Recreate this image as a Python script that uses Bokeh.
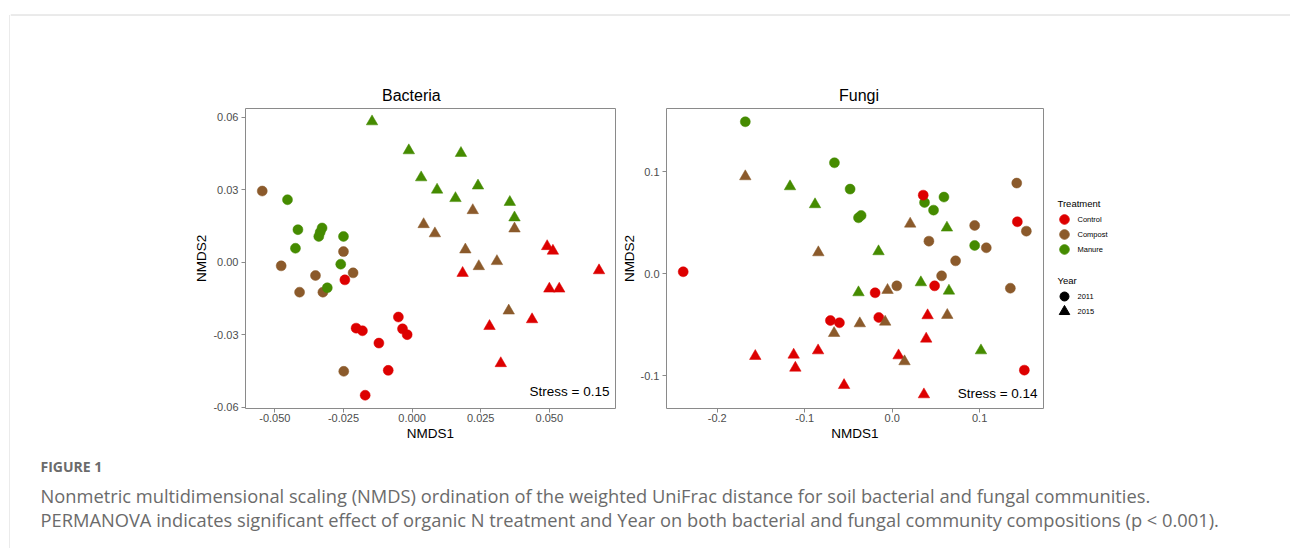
from bokeh.plotting import figure
from bokeh.layouts import column, row
from bokeh.models import ColumnDataSource, FixedTicker, NumeralTickFormatter, Label, Range1d, Spacer
from bokeh.embed import file_html
from bokeh.resources import INLINE
from bokeh.core.properties import value

# ---------------- data ----------------
treatments = ["Control", "Compost", "Manure"]
treat_colors = ["#DD0000", "#8B5A2B", "#458B00"]
years = ["2011", "2015"]
year_markers = ["circle", "triangle"]

panel_titles = ["Bacteria", "Fungi"]
stress_texts = ["Stress = 0.15", "Stress = 0.14"]
axis_x_label = "NMDS1"
axis_y_label = "NMDS2"

# Bacteria NMDS scores
bact_treat = (["Compost"] * 8 + ["Manure"] * 9 + ["Control"] * 9 +
              ["Manure"] * 9 + ["Compost"] * 8 + ["Control"] * 9)
bact_year = ["2011"] * 26 + ["2015"] * 26
bact_x = [-0.0546, -0.0477, -0.0410, -0.0352, -0.0325, -0.0250, -0.0215, -0.0249,
          -0.0454, -0.0416, -0.0425, -0.0328, -0.0335, -0.0340, -0.0250, -0.0260, -0.0309,
          -0.0245, -0.0204, -0.0181, -0.0121, -0.0050, -0.0035, -0.0018, -0.0087, -0.0171,
          -0.0146, -0.0012, 0.0178, 0.0033, 0.0091, 0.0240, 0.0158, 0.0356, 0.0373,
          0.0221, 0.0042, 0.0083, 0.0194, 0.0243, 0.0309, 0.0373, 0.0352,
          0.0492, 0.0513, 0.0681, 0.0184, 0.0500, 0.0536, 0.0437, 0.0282, 0.0323]
bact_y = [0.0295, -0.0015, -0.0124, -0.0055, -0.0124, 0.0044, -0.0044, -0.0452,
          0.0259, 0.0135, 0.0058, 0.0142, 0.0124, 0.0107, 0.0107, -0.0008, -0.0106,
          -0.0073, -0.0273, -0.0284, -0.0335, -0.0227, -0.0276, -0.0300, -0.0448, -0.0551,
          0.0583, 0.0463, 0.0452, 0.0351, 0.0300, 0.0317, 0.0265, 0.0249, 0.0185,
          0.0215, 0.0157, 0.0119, 0.0052, -0.0017, 0.0004, 0.0139, -0.0201,
          0.0066, 0.0047, -0.0034, -0.0045, -0.0110, -0.0110, -0.0237, -0.0265, -0.0419]

# Fungi NMDS scores
fung_treat = (["Compost"] * 9 + ["Manure"] * 9 + ["Control"] * 9 +
              ["Manure"] * 8 + ["Control"] * 9 + ["Compost"] * 9)
fung_year = ["2011"] * 27 + ["2015"] * 26
fung_x = [0.1424, 0.0943, 0.1534, 0.0420, 0.1076, 0.0725, 0.0565, 0.0053, 0.1351,
          -0.1679, -0.0660, -0.0481, -0.0385, -0.0355, 0.0370, 0.0473, 0.0592, 0.0943,
          -0.2389, 0.0355, 0.1431, -0.0195, 0.0485, -0.0706, -0.0603, -0.0153, 0.1511,
          -0.1168, -0.0882, 0.0626, -0.0156, -0.0385, 0.0328, 0.0649, 0.1015,
          -0.1565, -0.1126, -0.1107, -0.0847, -0.0550, 0.0073, 0.0405, 0.0389, 0.0363,
          -0.1679, -0.0844, 0.0206, -0.0053, -0.0370, -0.0080, -0.0664, 0.0630, 0.0141]
fung_y = [0.0889, 0.0474, 0.0418, 0.0320, 0.0255, 0.0127, -0.0020, -0.0118, -0.0141,
          0.1490, 0.1088, 0.0830, 0.0549, 0.0572, 0.0699, 0.0624, 0.0752, 0.0278,
          0.0020, 0.0771, 0.0510, -0.0186, -0.0118, -0.0458, -0.0480, -0.0428, -0.0944,
          0.0856, 0.0680, 0.0451, 0.0219, -0.0183, -0.0085, -0.0167, -0.0752,
          -0.0807, -0.0794, -0.0922, -0.0752, -0.1092, -0.0801, -0.0408, -0.0637, -0.1183,
          0.0954, 0.0209, 0.0490, -0.0160, -0.0487, -0.0471, -0.0582, -0.0405, -0.0859]

bact_xticks = [-0.05, -0.025, 0.0, 0.025, 0.05]
bact_yticks = [-0.06, -0.03, 0.0, 0.03, 0.06]
fung_xticks = [-0.2, -0.1, 0.0, 0.1]
fung_yticks = [-0.1, 0.0, 0.1]

caption_head = "FIGURE 1"
caption_lines = [
    "Nonmetric multidimensional scaling (NMDS) ordination of the weighted UniFrac distance for soil bacterial and fungal communities.",
    "PERMANOVA indicates significant effect of organic N treatment and Year on both bacterial and fungal community compositions (p < 0.001).",
]

# ---------------- styling ----------------
FONT = "Liberation Sans"
CAP_FONT = "Open Sans"
BORDER = "#d6d6d6"
ROW_H = 432
color_of = dict(zip(treatments, treat_colors))
marker_of = dict(zip(years, year_markers))
size_of = {"2011": 10, "2015": 11.5}


def blank(w, h):
    f = figure(width=w, height=h, x_range=Range1d(0, w), y_range=Range1d(h, 0),
               x_axis_type=None, y_axis_type=None, toolbar_location=None,
               output_backend="svg", min_border=0)
    f.grid.visible = False
    f.outline_line_color = None
    return f


def panel(title, title_off, xs, ys, trs, yrs, xr, yr, xticks, yticks, xfmt, yfmt,
          bl, br, fw, stress, sx, sy):
    p = figure(frame_width=fw, frame_height=300, x_range=Range1d(*xr), y_range=Range1d(*yr),
               toolbar_location=None, output_backend="svg",
               min_border_left=bl, min_border_right=br, min_border_top=92, min_border_bottom=40)
    p.title.text = title
    p.title.align = "left"
    p.title.offset = title_off
    p.title.text_font = FONT
    p.title.text_font_size = "16px"
    p.title.text_font_style = "normal"
    p.title.text_color = "#000000"
    p.title.standoff = 10
    p.grid.visible = False
    p.outline_line_color = "#8a8a8a"
    p.outline_line_width = 1
    for ax in (p.xaxis[0], p.yaxis[0]):
        ax.axis_line_color = None
        ax.major_tick_in = 0
        ax.major_tick_out = 4
        ax.major_tick_line_color = "#8a8a8a"
        ax.minor_tick_line_color = None
        ax.major_label_text_font = FONT
        ax.major_label_text_font_size = "11px"
        ax.major_label_text_color = "#4d4d4d"
        ax.axis_label_text_font = FONT
        ax.axis_label_text_font_size = "13.5px"
        ax.axis_label_text_font_style = "normal"
        ax.axis_label_text_color = "#000000"
        ax.axis_label_standoff = 1
    p.xaxis.axis_label = axis_x_label
    p.yaxis.axis_label = axis_y_label
    p.xaxis.major_label_standoff = 1
    p.yaxis.major_label_standoff = 3
    p.xaxis.ticker = FixedTicker(ticks=xticks)
    p.yaxis.ticker = FixedTicker(ticks=yticks)
    p.xaxis.formatter = NumeralTickFormatter(format=xfmt)
    p.yaxis.formatter = NumeralTickFormatter(format=yfmt)
    for yv in years:
        idx = [i for i in range(len(xs)) if yrs[i] == yv]
        src = ColumnDataSource(dict(
            x=[xs[i] for i in idx], y=[ys[i] for i in idx],
            color=[color_of[trs[i]] for i in idx]))
        p.scatter("x", "y", source=src, marker=marker_of[yv], size=size_of[yv],
                  fill_color="color", line_color="color", line_width=0.5)
    p.add_layout(Label(x=sx, y=sy, text=stress, text_align="right", text_baseline="middle",
                       text_font=FONT, text_font_size="13.5px", text_color="#000000"))
    return p


bact = panel(panel_titles[0], 136.5, bact_x, bact_y, bact_treat, bact_year,
             (-0.0607, 0.0741), (-0.0606, 0.0637), bact_xticks, bact_yticks,
             "0.000", "0.00", 55, 3, 370, stress_texts[0], 0.0719, -0.0534)
fung = panel(panel_titles[1], 172.5, fung_x, fung_y, fung_treat, fung_year,
             (-0.258, 0.173), (-0.132, 0.162), fung_xticks, fung_yticks,
             "0.0", "0.0", 46, 9, 377, stress_texts[1], 0.1662, -0.1173)

# ---------------- legend (frame aligned with panels: page y 108..408) ----------------
leg = figure(width=240, frame_height=300, x_range=Range1d(1050, 1290), y_range=Range1d(408, 108),
             x_axis_type=None, y_axis_type=None, toolbar_location=None, output_backend="svg",
             min_border_left=0, min_border_right=0, min_border_top=92, min_border_bottom=40)
leg.grid.visible = False
leg.outline_line_color = None
leg.text(x=[1055], y=[203], text=["Treatment"], text_font=value(FONT), text_font_size="9.5px",
         text_baseline="middle", text_color="#000000")
ty = [219 + 15 * i for i in range(len(treatments))]
leg.scatter(x=[1062] * len(treatments), y=ty, marker="circle", size=9.5,
            fill_color=treat_colors, line_color=treat_colors)
leg.text(x=[1075] * len(treatments), y=ty, text=treatments, text_font=value(FONT),
         text_font_size="7.5px", text_baseline="middle", text_color="#000000")
leg.text(x=[1055], y=[280], text=["Year"], text_font=value(FONT), text_font_size="9.5px",
         text_baseline="middle", text_color="#000000")
yy = [296 + 15 * i for i in range(len(years))]
for i, yv in enumerate(years):
    leg.scatter(x=[1062], y=[yy[i]], marker=year_markers[i], size=size_of[yv] - 1,
                fill_color="#000000", line_color="#000000")
leg.text(x=[1075] * len(years), y=yy, text=years, text_font=value(FONT),
         text_font_size="7.5px", text_baseline="middle", text_color="#000000")

# ---------------- decorations ----------------
strip = blank(10, 548)
strip.segment(x0=[9.5], y0=[14.5], x1=[9.5], y1=[548], line_color=BORDER, line_width=1)
strip.segment(x0=[9.5], y0=[14.5], x1=[10], y1=[14.5], line_color=BORDER, line_width=1)

top = blank(1280, 16)
top.segment(x0=[0], y0=[14.5], x1=[1280], y1=[14.5], line_color=BORDER, line_width=1)

cap = blank(1280, 100)
cap.text(x=[30], y=[18], text=[caption_head], text_font=value(CAP_FONT), text_font_size="14px",
         text_font_style="bold", text_baseline="middle", text_color="#6b6b6b")
cap.text(x=[30, 30], y=[46.5, 71], text=caption_lines, text_font=value(CAP_FONT),
         text_font_size="18.3px", text_baseline="middle", text_color="#6b6b6b")

inner = column(top, row(Spacer(width=180, height=ROW_H), bact, fung, leg), cap)
layout = row(strip, inner)

open("out.html", "w").write(file_html(layout, INLINE))
